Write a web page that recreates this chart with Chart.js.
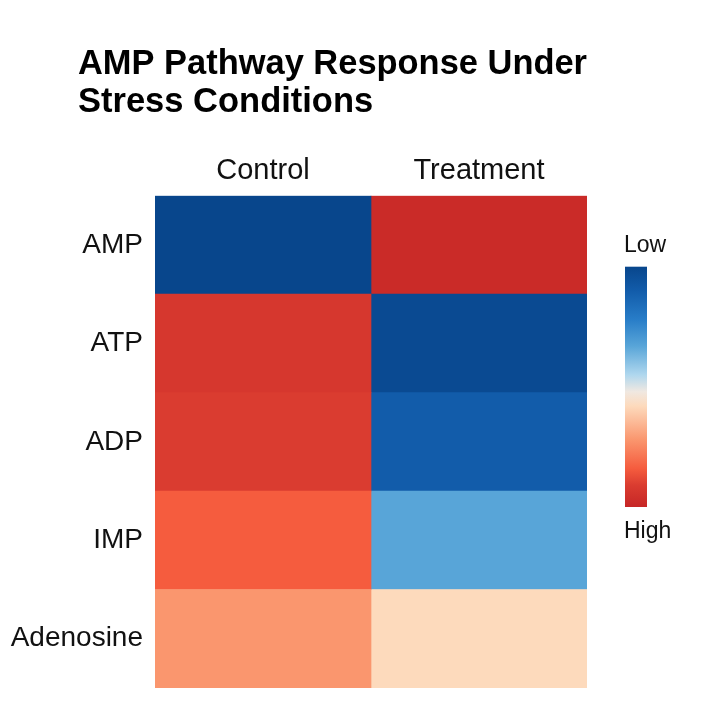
<!DOCTYPE html>
<html>
<head>
<meta charset="utf-8">
<script src="https://cdn.jsdelivr.net/npm/chart.js@4.4.1/dist/chart.umd.min.js"></script>
<style>
  html, body { margin: 0; padding: 0; background: #ffffff; }
  #wrap { width: 717px; height: 717px; }
</style>
</head>
<body>
<div id="wrap"><canvas id="c" width="717" height="717"></canvas></div>
<script>
// ---- Data ----
const titleLines = ["AMP Pathway Response Under", "Stress Conditions"];
const rows = ["AMP", "ATP", "ADP", "IMP", "Adenosine"];
const columns = ["Control", "Treatment"];
// normalized level: 0 = Low (blue), 1 = High (red)
const controlValues = [0.00, 0.93, 0.91, 0.84, 0.72];
const treatmentValues = [0.98, 0.02, 0.10, 0.33, 0.58];
const scaleLabels = ["Low", "High"];

// ---- Colormap ----
const cmapStops = [
  [0.00, [8, 70, 140]],
  [0.10, [18, 92, 170]],
  [0.22, [40, 125, 200]],
  [0.33, [88, 165, 216]],
  [0.45, [175, 215, 238]],
  [0.52, [240, 232, 225]],
  [0.58, [253, 218, 188]],
  [0.72, [250, 150, 110]],
  [0.84, [245, 92, 62]],
  [0.91, [218, 60, 48]],
  [1.00, [198, 38, 38]]
];
function colorFor(v) {
  for (let i = 0; i < cmapStops.length - 1; i++) {
    const [a, ca] = cmapStops[i], [b, cb] = cmapStops[i + 1];
    if (v >= a && v <= b) {
      const t = (v - a) / (b - a);
      const c = ca.map((x, k) => Math.round(x + (cb[k] - x) * t));
      return `rgb(${c[0]},${c[1]},${c[2]})`;
    }
  }
  const c = v < 0 ? cmapStops[0][1] : cmapStops[cmapStops.length - 1][1];
  return `rgb(${c[0]},${c[1]},${c[2]})`;
}

const FONT = "'Liberation Sans', Arial, sans-serif";
Chart.defaults.font.family = FONT;
Chart.defaults.color = "#111111";

const seriesValues = [controlValues, treatmentValues];
const datasets = columns.map((col, j) => ({
  label: col,
  data: rows.map(() => [j, j + 1]),
  backgroundColor: seriesValues[j].map(colorFor),
  borderWidth: 0,
  grouped: false,
  barPercentage: 1,
  categoryPercentage: 1
}));

// place the title block at the same left edge as in the reference
const titleShiftPlugin = {
  id: "titleShift",
  afterLayout(chart) {
    const tb = chart.titleBlock;
    if (tb) { tb.left = 78; }
  }
};

const colorBarPlugin = {
  id: "colorBar",
  afterDraw(chart) {
    const ctx = chart.ctx;
    const area = chart.chartArea;
    const x = area.right + 38, w = 22;
    const top = area.top + 71, bottom = area.bottom - 181;
    const g = ctx.createLinearGradient(0, top, 0, bottom);
    cmapStops.forEach(([p, c]) => g.addColorStop(p, `rgb(${c[0]},${c[1]},${c[2]})`));
    ctx.save();
    ctx.fillStyle = g;
    ctx.fillRect(x, top, w, bottom - top);
    ctx.fillStyle = "#111111";
    ctx.font = `23px ${FONT}`;
    ctx.textAlign = "left";
    ctx.textBaseline = "middle";
    ctx.fillText(scaleLabels[0], x - 1, top - 21);
    ctx.fillText(scaleLabels[1], x - 1, bottom + 25);
    ctx.restore();
  }
};

new Chart(document.getElementById("c"), {
  type: "bar",
  data: { labels: rows, datasets },
  options: {
    indexAxis: "y",
    responsive: false,
    animation: false,
    layout: { padding: { left: 5, right: 130, top: 46, bottom: 29 } },
    plugins: {
      legend: { display: false },
      tooltip: { enabled: false },
      title: {
        display: true,
        text: titleLines,
        align: "start",
        color: "#000000",
        font: { size: 34.5, weight: "bold", lineHeight: 1.1 },
        padding: { top: 0, bottom: 25 }
      }
    },
    scales: {
      x: {
        type: "linear",
        position: "top",
        min: 0,
        max: columns.length,
        grid: { display: false, drawTicks: false },
        border: { display: false },
        afterBuildTicks(scale) {
          scale.ticks = columns.map((_, j) => ({ value: j + 0.5 }));
        },
        ticks: {
          autoSkip: false,
          maxRotation: 0,
          padding: 7,
          color: "#111111",
          font: { size: 29 },
          callback: (v) => columns[Math.floor(v)]
        }
      },
      y: {
        type: "category",
        grid: { display: false, drawTicks: false },
        border: { display: false },
        afterFit(scale) { scale.width = 150; },
        ticks: {
          padding: 12,
          color: "#111111",
          font: { size: 28 }
        }
      }
    }
  },
  plugins: [titleShiftPlugin, colorBarPlugin]
});
</script>
</body>
</html>
